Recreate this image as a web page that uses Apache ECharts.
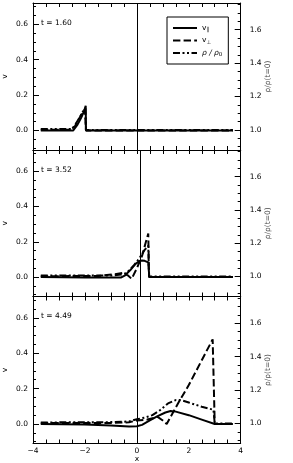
<!DOCTYPE html>
<html><head><meta charset="utf-8">
<script src="https://cdn.jsdelivr.net/npm/echarts@6/dist/echarts.min.js"></script>
<style>html,body{margin:0;padding:0;background:#fff}#c{width:293px;height:463px}</style>
</head><body><div id="c"></div>
<script>
// ---- data ----
const times = ['1.60', '3.52', '4.49'];
const vlineX = [0, 0.15, 0];

const vpar1 = [[-3.7,0],[-2.45,0],[-2.3,0.03],[-2.15,0.07],[-2.03,0.11],[-1.97,0.14],[-1.96,0],[3.7,0]];
const vperp1 = [[-3.7,0.004],[-2.6,0.004],[-2.4,0.02],[-2.25,0.06],[-2.1,0.1],[-2.0,0.12],[-1.97,0.13],[-1.96,0],[3.7,0]];
const rho1 = [[-3.7,1.006],[-2.5,1.006],[-2.38,1.03],[-2.22,1.07],[-2.08,1.11],[-1.98,1.13],[-1.96,1.0],[3.7,1.0]];

const vpar2 = [[-3.7,0],[-2,-0.002],[-1,-0.003],[-0.6,-0.002],[-0.45,0.01],[-0.25,0.04],[-0.05,0.075],[0.1,0.09],[0.2,0.094],[0.3,0.092],[0.44,0.083],[0.47,0.08],[0.48,0],[3.7,0]];
const vperp2 = [[-3.7,0.005],[-1.5,0.006],[-0.9,0.015],[-0.55,0.023],[-0.35,0.01],[-0.2,-0.01],[0,0.05],[0.2,0.12],[0.35,0.2],[0.44,0.247],[0.46,0.24],[0.47,0],[3.7,0]];
const rho2 = [[-3.7,1.006],[-1.0,1.006],[-0.6,1.012],[-0.4,1.02],[-0.1,1.07],[0.1,1.11],[0.3,1.16],[0.44,1.185],[0.46,1.185],[0.47,1.0],[3.7,1.0]];

const vpar3 = [[-3.7,0],[-2,-0.003],[-1,-0.008],[-0.3,-0.014],[0,-0.013],[0.2,-0.005],[0.5,0.02],[0.8,0.045],[1.1,0.065],[1.3,0.073],[1.5,0.07],[2,0.05],[2.5,0.025],[3.0,0],[3.7,0]];
const vperp3 = [[-3.7,0.005],[-1,0.006],[-0.3,0.01],[0,0.02],[0.4,0.025],[0.8,0.04],[1.0,0.02],[1.15,0],[1.6,0.12],[2.0,0.22],[2.5,0.36],[2.92,0.478],[2.98,0.47],[3.0,0],[3.7,0]];
const rho3 = [[-3.7,1.006],[-1,1.008],[-0.3,1.012],[0,1.025],[0.3,1.035],[0.6,1.05],[0.9,1.08],[1.2,1.12],[1.5,1.14],[1.7,1.14],[2.0,1.125],[2.5,1.1],[2.95,1.082],[3.0,1.0],[3.7,1.0]];

const vpar = [vpar1, vpar2, vpar3];
const vperp = [vperp1, vperp2, vperp3];
const rho = [rho1, rho2, rho3];

const vTicks = [0, 0.2, 0.4, 0.6];
const rhoTicks = [1.0, 1.2, 1.4, 1.6];
const xLabels = [-4, -2, 0, 2, 4];

// ---- layout ----
const V_MIN = -0.11, V_MAX = 0.72, R_MIN = 0.88, R_MAX = 1.76;
const tops = [3, 150, 296.5];
const heights = [147, 146.5, 147];
const L = 33, R = 52.3;
const FONT = 'DejaVu Sans';
const TXT = '#000';

function minors(lo, hi, step, majors) {
  const out = [];
  for (let k = Math.ceil(lo / step - 1e-9); k * step <= hi + 1e-9; k++) {
    const v = +(k * step).toFixed(4);
    if (!majors.some(m => Math.abs(m - v) < 1e-6)) out.push(v);
  }
  return out;
}
const vMinor = minors(V_MIN, V_MAX, 0.05, vTicks);
const rMinor = minors(R_MIN, R_MAX, 0.05, rhoTicks);
const fmtMinus = v => String(v).replace('-', '\u2212');
const AXLINE = {show: true, onZero: false, lineStyle: {color: '#000', width: 1}};

const grid = [], xAxis = [], yAxis = [], series = [], graphic = [];
for (let i = 0; i < 3; i++) {
  grid.push({left: L, right: R, top: tops[i], height: heights[i], containLabel: false, outerBoundsMode: 'none'});
  const last = i === 2;
  const xbase = {
    type: 'value', gridIndex: i, min: -4, max: 4, interval: 0.5,
    axisLine: AXLINE,
    axisTick: {show: true, inside: true, length: 4, lineStyle: {color: '#000', width: 1}},
    splitLine: {show: false}
  };
  xAxis.push(Object.assign({}, xbase, {
    position: 'bottom',
    axisLabel: {show: last, margin: 4, fontFamily: FONT, fontSize: 7.5, color: TXT,
      formatter: v => xLabels.includes(v) ? fmtMinus(v) : ''},
    name: last ? 'x' : '', nameLocation: 'middle', nameGap: 12, nameMoveOverlap: false,
    nameTextStyle: {fontFamily: FONT, fontSize: 7.5, color: TXT}
  }));
  xAxis.push(Object.assign({}, xbase, {position: 'top', axisLabel: {show: false}}));
  // left major
  yAxis.push({
    type: 'value', gridIndex: i, position: 'left', min: V_MIN, max: V_MAX,
    axisLine: AXLINE,
    axisTick: {show: true, inside: true, length: 6, customValues: vTicks, lineStyle: {color: '#000'}},
    axisLabel: {show: true, customValues: vTicks, formatter: v => v.toFixed(1), margin: 5,
      fontFamily: FONT, fontSize: 7.5, color: TXT},
    splitLine: {show: false},
    name: 'v', nameLocation: 'middle', nameGap: 24, nameRotate: 90, nameMoveOverlap: false,
    nameTextStyle: {fontFamily: FONT, fontSize: 7.5, color: TXT}
  });
  // left minor
  yAxis.push({
    type: 'value', gridIndex: i, position: 'left', min: V_MIN, max: V_MAX,
    axisLine: {show: false, onZero: false},
    axisTick: {show: true, inside: true, length: 3, customValues: vMinor, lineStyle: {color: '#000'}},
    axisLabel: {show: false}, splitLine: {show: false}
  });
  // right major
  yAxis.push({
    type: 'value', gridIndex: i, position: 'right', min: R_MIN, max: R_MAX,
    axisLine: AXLINE,
    axisTick: {show: true, inside: true, length: 6, customValues: rhoTicks, lineStyle: {color: '#000'}},
    axisLabel: {show: true, customValues: rhoTicks, formatter: v => v.toFixed(1), margin: 9,
      fontFamily: FONT, fontSize: 7.5, color: TXT},
    splitLine: {show: false},
    name: '\u03c1/\u03c1(t=0)', nameLocation: 'middle', nameGap: 23, nameRotate: 90, nameMoveOverlap: false,
    nameTextStyle: {fontFamily: FONT, fontSize: 7.5, color: '#444'}
  });
  // right minor
  yAxis.push({
    type: 'value', gridIndex: i, position: 'right', min: R_MIN, max: R_MAX,
    axisLine: {show: false, onZero: false},
    axisTick: {show: true, inside: true, length: 3, customValues: rMinor, lineStyle: {color: '#000'}},
    axisLabel: {show: false}, splitLine: {show: false}
  });

  const common = {type: 'line', xAxisIndex: 2 * i, symbol: 'none', showSymbol: false,
    animation: false, silent: true};
  series.push(Object.assign({}, common, {
    name: 'vpar', yAxisIndex: 4 * i, data: vpar[i],
    lineStyle: {color: '#000', width: 2, type: 'solid'}, itemStyle: {color: '#000'},
    markLine: {silent: true, symbol: ['none', 'none'], label: {show: false},
      lineStyle: {color: '#000', width: 1, type: 'solid'}, data: [{xAxis: vlineX[i]}]}
  }));
  series.push(Object.assign({}, common, {
    name: 'vperp', yAxisIndex: 4 * i, data: vperp[i],
    lineStyle: {color: '#000', width: 2, type: [7.4, 3.2]}, itemStyle: {color: '#000'}
  }));
  series.push(Object.assign({}, common, {
    name: 'rho', yAxisIndex: 4 * i + 2, data: rho[i],
    lineStyle: {color: '#000', width: 2, type: [7, 2.5, 2, 2.5, 2, 2.5]}, itemStyle: {color: '#000'}
  }));
  graphic.push({type: 'text', left: 41, top: tops[i] + 16,
    style: {text: 't = ' + times[i], font: '7.5px "DejaVu Sans"', fill: TXT}});
}

const legendNames = {
  vpar: '{v|v}{s|\u2225}',
  vperp: '{v|v}{s|\u22a5}',
  rho: '{i|\u03c1 / \u03c1}{s|0}'
};

const option = {
  animation: false,
  backgroundColor: '#fff',
  grid, xAxis, yAxis, series, graphic,
  legend: {
    left: 167, top: 17, width: 49, orient: 'vertical',
    padding: [7, 6, 6, 5], itemGap: 3.5, itemWidth: 24, itemHeight: 8,
    borderColor: '#000', borderWidth: 1, backgroundColor: '#fff',
    selectedMode: false,
    itemStyle: {opacity: 0},
    data: ['vpar', 'vperp', 'rho'],
    formatter: n => legendNames[n],
    textStyle: {
      fontFamily: FONT, fontSize: 7.5, color: TXT,
      rich: {
        v: {fontFamily: FONT, fontSize: 7.5, color: TXT},
        i: {fontFamily: FONT, fontSize: 7.5, fontStyle: 'italic', color: TXT},
        s: {fontFamily: FONT, fontSize: 5.5, color: TXT, verticalAlign: 'bottom', padding: [4, 0, 0, 0]}
      }
    }
  }
};
const chart = echarts.init(document.getElementById('c'), null, {renderer: 'canvas'});
chart.setOption(option);
</script></body></html>
